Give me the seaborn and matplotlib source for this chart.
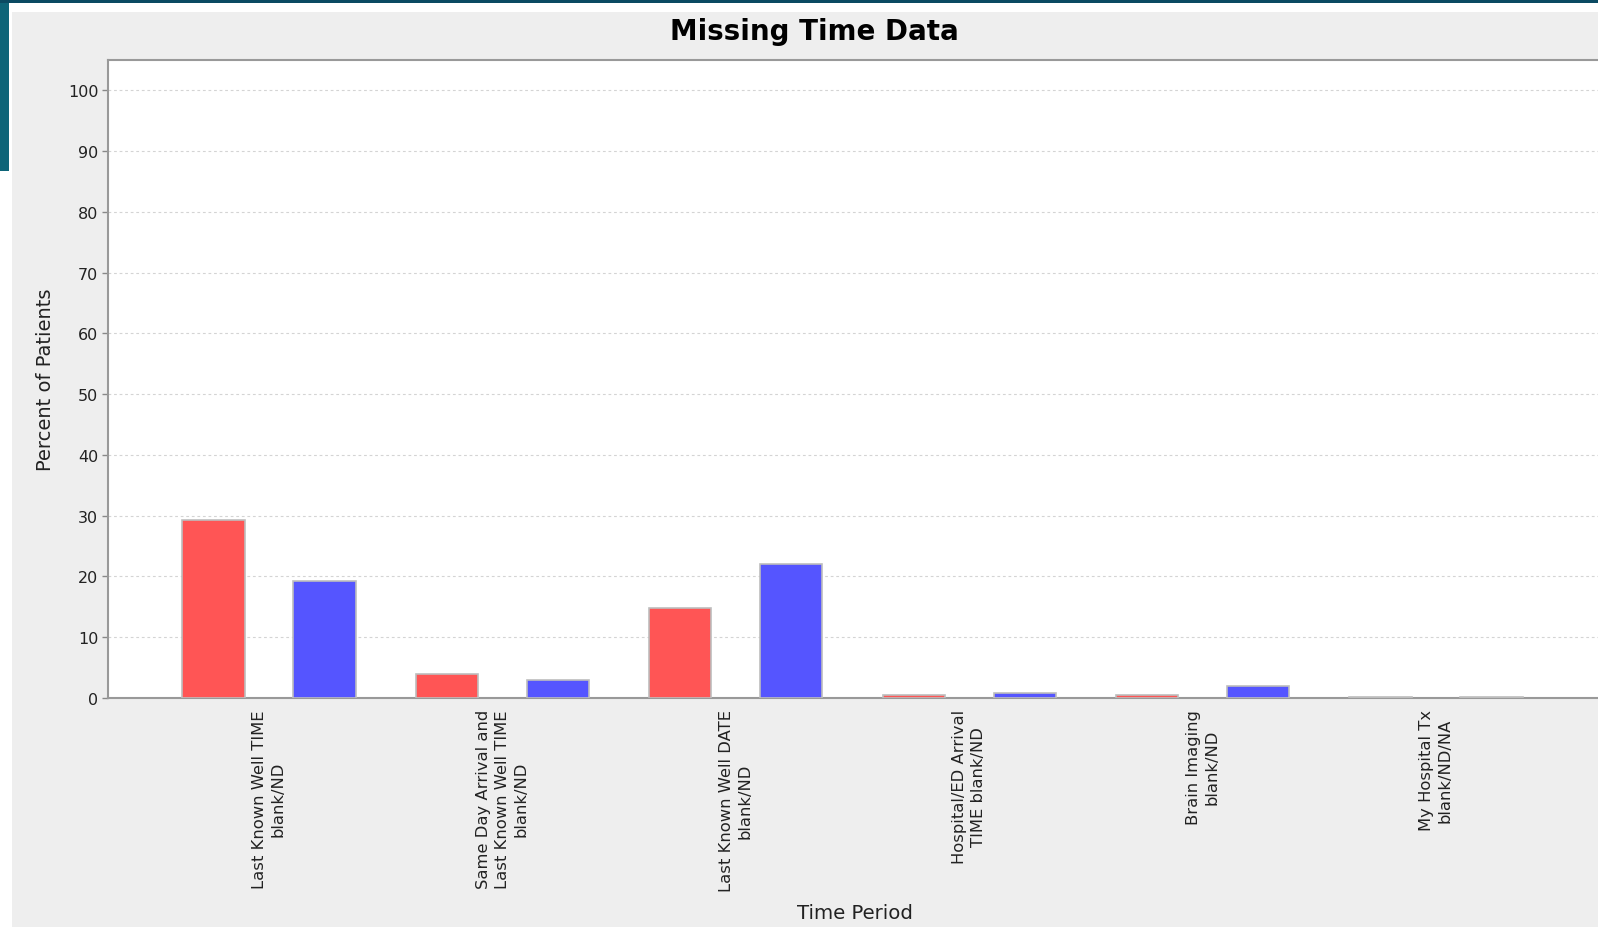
import matplotlib
matplotlib.use("Agg")
import matplotlib.pyplot as plt
from matplotlib.patches import Rectangle
import seaborn as sns
import pandas as pd

categories = [
    "Last Known Well TIME\nblank/ND",
    "Same Day Arrival and\nLast Known Well TIME\nblank/ND",
    "Last Known Well DATE\nblank/ND",
    "Hospital/ED Arrival\nTIME blank/ND",
    "Brain Imaging\nblank/ND",
    "My Hospital Tx\nblank/ND/NA",
]
series_names = ["My Hospital", "All Hospitals"]
my_hospital = [29.3, 3.9, 14.8, 0.5, 0.5, 0.2]
all_hospitals = [19.3, 3.0, 22.1, 0.9, 2.0, 0.2]
y_ticks = [0, 10, 20, 30, 40, 50, 60, 70, 80, 90, 100]

df = pd.DataFrame({
    "category": categories * 2,
    "series": [series_names[0]] * len(categories) + [series_names[1]] * len(categories),
    "value": my_hospital + all_hospitals,
})

sns.set_theme(style="white")
plt.rcParams["font.family"] = ["DejaVu Sans"]

W, H = 1598, 928
fig = plt.figure(figsize=(W / 100, H / 100), dpi=100, facecolor="white")

# screenshot frame: teal band and chart panel
fig.patches.append(Rectangle((0, 1 - 4 / H), 1, 4 / H, transform=fig.transFigure,
                             facecolor="#0b4a62", edgecolor="none", zorder=-10))
fig.patches.append(Rectangle((0, 1 - 172 / H), 9 / W, 168 / H, transform=fig.transFigure,
                             facecolor="#0e6478", edgecolor="none", zorder=-10))
fig.patches.append(Rectangle((12 / W, 0), 1, 1 - 13 / H, transform=fig.transFigure,
                             facecolor="#eeeeee", edgecolor="none", zorder=-10))

left_px, top_px, bottom_px = 108, 61, 699
ax = fig.add_axes([left_px / W, 1 - bottom_px / H, (W - left_px) / W, (bottom_px - top_px) / H])
ax.set_facecolor("white")

sns.barplot(data=df, x="category", y="value", hue="series",
            palette=["#ff5555", "#5555ff"], width=0.952, gap=0.44,
            edgecolor="#bdbdbd", linewidth=1.2, errorbar=None, legend=False,
            saturation=1, ax=ax, zorder=3)

ax.set_xlim(-0.690, 5.694)
ax.set_ylim(0, 105)
ax.set_yticks(y_ticks)
ax.yaxis.grid(True, color="#d4d4d4", linestyle=(0, (2.5, 2.5)), linewidth=0.8)
ax.xaxis.grid(False)
ax.set_axisbelow(True)

for s in ["left", "top", "bottom"]:
    ax.spines[s].set_color("#999999")
    ax.spines[s].set_linewidth(1.5)
ax.spines["right"].set_visible(False)

ax.tick_params(axis="y", length=4, width=1, color="#888888", pad=3,
               labelsize=11.5, labelcolor="#222222", left=True)
ax.tick_params(axis="x", length=0, pad=8, labelsize=11.8, labelcolor="#222222")
for lab in ax.get_xticklabels():
    lab.set_rotation(90)
    lab.set_multialignment("center")
    lab.set_linespacing(1.3)
    lab.set_va("top")
    lab.set_ha("center")

ax.set_xlabel("Time Period", fontsize=14.2, color="#222222")
ax.set_ylabel("Percent of Patients", fontsize=14, color="#222222")
ax.xaxis.set_label_coords(0.501, (bottom_px - 904) / (bottom_px - top_px))
ax.yaxis.set_label_coords((55 - left_px) / (W - left_px), 0.5)

fig.text(814 / W, 1 - 32 / H, "Missing Time Data", ha="center", va="center",
         fontsize=20, fontweight="bold", color="black")

fig.savefig("out.png", dpi=100, facecolor=fig.get_facecolor())
